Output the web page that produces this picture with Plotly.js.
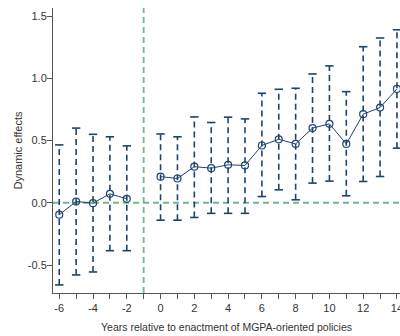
<!DOCTYPE html>
<html>
<head>
<meta charset="utf-8">
<script src="https://cdn.plot.ly/plotly-3.0.1.min.js"></script>
<style>html,body{margin:0;padding:0;background:#fff;}#chart{width:400px;height:336px;}</style>
</head>
<body>
<div id="chart"></div>
<script>
const years  = [-6, -5, -4, -3, -2, 0, 1, 2, 3, 4, 5, 6, 7, 8, 9, 10, 11, 12, 13, 14];
const coef   = [-0.096, 0.010, -0.003, 0.072, 0.032, 0.210, 0.195, 0.290, 0.278, 0.305, 0.300, 0.460, 0.510, 0.473, 0.600, 0.634, 0.473, 0.712, 0.765, 0.915];
const ciLow  = [-0.660, -0.580, -0.556, -0.385, -0.385, -0.140, -0.140, -0.118, -0.085, -0.085, -0.085, 0.050, 0.104, 0.024, 0.158, 0.174, 0.056, 0.171, 0.211, 0.439];
const ciHigh = [0.465, 0.600, 0.550, 0.530, 0.457, 0.553, 0.530, 0.690, 0.645, 0.688, 0.674, 0.880, 0.912, 0.920, 1.035, 1.100, 0.893, 1.254, 1.324, 1.390];
const xTickVals = [-6, -5, -4, -3, -2, -1, 0, 1, 2, 3, 4, 5, 6, 7, 8, 9, 10, 11, 12, 13, 14];
const xTickText = ['-6', '', '-4', '', '-2', '', '0', '', '2', '', '4', '', '6', '', '8', '', '10', '', '12', '', '14'];
const yTickVals = [-0.5, 0, 0.5, 1.0, 1.5];
const yTickText = ['-0.5', '0.0', '0.5', '1.0', '1.5'];
const refYear = -1;

const navy = '#1d4470';
const green = '#72b68d';
const axisCol = '#555555';

// error bar segments
const ex = [], ey = [];
years.forEach((yr, i) => { ex.push(yr, yr, null); ey.push(ciLow[i], ciHigh[i], null); });
const capX = years.concat(years);
const capY = ciLow.concat(ciHigh);

const pre = years.map((y, i) => i).filter(i => years[i] < 0);
const post = years.map((y, i) => i).filter(i => years[i] >= 0);

const traces = [
  { x: ex, y: ey, mode: 'lines', type: 'scatter', line: { color: navy, width: 1.6, dash: '6px,4px' }, hoverinfo: 'skip', showlegend: false },
  { x: capX, y: capY, mode: 'markers', type: 'scatter', marker: { symbol: 'line-ew', size: 6, color: navy, line: { color: navy, width: 1.6 } }, hoverinfo: 'skip', showlegend: false },
  { x: pre.map(i => years[i]), y: pre.map(i => coef[i]), mode: 'lines+markers', type: 'scatter', line: { color: navy, width: 1 }, marker: { symbol: 'circle-open', size: 7, color: navy, line: { width: 1.2, color: navy } }, showlegend: false },
  { x: post.map(i => years[i]), y: post.map(i => coef[i]), mode: 'lines+markers', type: 'scatter', line: { color: navy, width: 1 }, marker: { symbol: 'circle-open', size: 7, color: navy, line: { width: 1.2, color: navy } }, showlegend: false }
];

const layout = {
  width: 400, height: 336,
  margin: { l: 53, r: 0, t: 8, b: 43, pad: 0 },
  paper_bgcolor: '#ffffff', plot_bgcolor: '#ffffff',
  font: { family: 'Liberation Sans, Arial, sans-serif', size: 11, color: '#333333' },
  showlegend: false,
  xaxis: {
    range: [-6.37, 14.18], showgrid: false, zeroline: false,
    showline: true, linecolor: axisCol, linewidth: 1,
    ticks: 'outside', ticklen: 5, tickcolor: axisCol, tickwidth: 1,
    tickmode: 'array', tickvals: xTickVals, ticktext: xTickText,
    ticklabeloverflow: 'allow',
    tickfont: { size: 11, color: '#333333' },
    title: { text: 'Years relative to enactment of MGPA-oriented policies', font: { size: 10.5, color: '#333333' }, standoff: 10 }
  },
  yaxis: {
    range: [-0.725, 1.565], showgrid: false, zeroline: false,
    showline: true, linecolor: axisCol, linewidth: 1,
    ticks: 'outside', ticklen: 5, tickcolor: axisCol, tickwidth: 1,
    tickmode: 'array', tickvals: yTickVals, ticktext: yTickText,
    ticklabelstandoff: -2,
    tickfont: { size: 11, color: '#333333' },
    title: { text: 'Dynamic effects', font: { size: 11, color: '#333333' }, standoff: 2 }
  },
  shapes: [
    { type: 'line', xref: 'x', yref: 'paper', x0: refYear, x1: refYear, y0: 0, y1: 1, line: { color: green, width: 1.8, dash: '6px,4px' }, layer: 'below' },
    { type: 'line', xref: 'paper', yref: 'y', x0: 0, x1: 1, y0: 0, y1: 0, line: { color: green, width: 1.8, dash: '6px,4px' }, layer: 'below' }
  ]
};

Plotly.newPlot('chart', traces, layout, { staticPlot: true, displayModeBar: false });
</script>
</body>
</html>
